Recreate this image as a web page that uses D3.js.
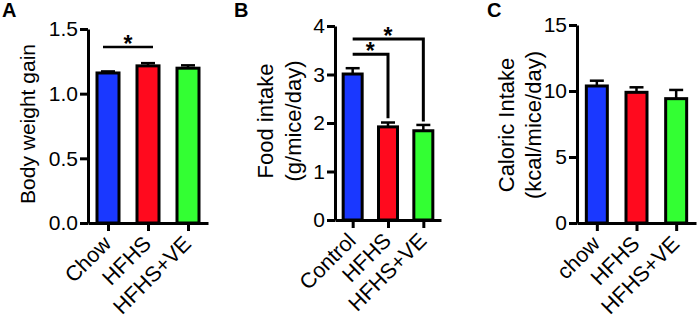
<!DOCTYPE html>
<html>
<head>
<meta charset="UTF-8">
<title>Body weight, food and caloric intake</title>
<script src="https://d3js.org/d3.v7.min.js"></script>
<style>
    body { margin: 0; background: #fff; }
    text { font-family: Arial, "Liberation Sans", sans-serif; fill: #000; }
    .axis path, .axis line { stroke: #000; stroke-width: 3; }
    .axis text { font-size: 21px; }
    .xlab text { font-size: 21.5px; }
    .ytitle { font-size: 21px; }
    .letter { font-size: 20px; font-weight: bold; }
    .star { font-size: 23px; font-weight: bold; }
</style>
</head>
<body>
<div id="chart"></div>
<script>
// ---- data ----
const groupsA = ["Chow", "HFHS", "HFHS+VE"];
const meansA = [1.16, 1.215, 1.197];
const semA = [0.012, 0.021, 0.022];
const ticksA = [0, 0.5, 1.0, 1.5];

const groupsB = ["Control", "HFHS", "HFHS+VE"];
const meansB = [3.01, 1.92, 1.84];
const semB = [0.12, 0.09, 0.12];
const ticksB = [0, 1, 2, 3, 4];

const groupsC = ["chow", "HFHS", "HFHS+VE"];
const meansC = [10.38, 9.9, 9.42];
const semC = [0.4, 0.38, 0.66];
const ticksC = [0, 5, 10, 15];

// significance marks: [from, to, level, drop-to (null = flat line)]
const sigA = [[0, 1, 1.36, null]];
const sigB = [[0, 1, 3.42, 2.1], [0, 2, 3.73, 2.03]];
const sigC = [];

const colors = ["#1a38ff", "#ff0a1e", "#33ff33"];

const W = 699, H = 319;
const svg = d3.select("#chart").append("svg")
    .attr("width", W)
    .attr("height", H);

const panels = [
    { letter: "A", lx: 2, groups: groupsA, means: meansA, sem: semA, ticks: ticksA, sig: sigA,
      fmt: d3.format(".1f"), title: ["Body weight gain"], tx: [35], ty: 124, tsize: 21,
      x0: 88, x1: 208, y0: 223, yTop: 29, barW: 25 },
    { letter: "B", lx: 234, groups: groupsB, means: meansB, sem: semB, ticks: ticksB, sig: sigB,
      fmt: d3.format("d"), title: ["Food intake", "(g/mice/day)"], tx: [273, 301], ty: 121, tsize: 22,
      x0: 335, x1: 441, y0: 220, yTop: 26, barW: 22 },
    { letter: "C", lx: 487, groups: groupsC, means: meansC, sem: semC, ticks: ticksC, sig: sigC,
      fmt: d3.format("d"), title: ["Caloric Intake", "(kcal/mice/day)"], tx: [514, 541], ty: 125, tsize: 22,
      x0: 577, x1: 696, y0: 223, yTop: 25, barW: 24 }
];

panels.forEach(p => {
    const g = svg.append("g");

    const x = d3.scalePoint()
        .domain(p.groups)
        .range([p.x0, p.x1])
        .padding(0.5);

    const y = d3.scaleLinear()
        .domain(d3.extent(p.ticks))
        .range([p.y0, p.yTop]);

    // error bars (upper only)
    p.groups.forEach((name, i) => {
        const cx = x(name);
        g.append("line")
            .attr("x1", cx).attr("x2", cx)
            .attr("y1", y(p.means[i])).attr("y2", y(p.means[i] + p.sem[i]))
            .attr("stroke", "#000").attr("stroke-width", 2.5);
        g.append("line")
            .attr("x1", cx - 7).attr("x2", cx + 7)
            .attr("y1", y(p.means[i] + p.sem[i])).attr("y2", y(p.means[i] + p.sem[i]))
            .attr("stroke", "#000").attr("stroke-width", 2.5);
    });

    // bars
    g.selectAll(".bar")
        .data(p.groups)
        .join("rect")
        .attr("class", "bar")
        .attr("x", d => x(d) - p.barW / 2 + 1.5)
        .attr("width", p.barW - 3)
        .attr("y", (d, i) => y(p.means[i]))
        .attr("height", (d, i) => p.y0 - y(p.means[i]))
        .attr("fill", (d, i) => colors[i])
        .attr("stroke", "#000")
        .attr("stroke-width", 3);

    // axes
    g.append("g")
        .attr("class", "axis")
        .attr("transform", `translate(${p.x0},0)`)
        .call(d3.axisLeft(y).tickValues(p.ticks).tickFormat(p.fmt).tickSize(8).tickSizeOuter(0).tickPadding(2));

    const xa = g.append("g")
        .attr("class", "axis xlab")
        .attr("transform", `translate(0,${p.y0})`)
        .call(d3.axisBottom(x).tickSize(8).tickSizeOuter(0));
    xa.selectAll("text")
        .attr("x", 0).attr("y", 0).attr("dy", 0)
        .attr("text-anchor", "end")
        .attr("transform", "translate(4,22) rotate(-45)");

    // y titles
    p.title.forEach((t, k) => {
        g.append("text")
            .attr("class", "ytitle")
            .style("font-size", p.tsize + "px")
            .attr("text-anchor", "middle")
            .attr("transform", `translate(${p.tx[k]},${p.ty}) rotate(-90)`)
            .text(t);
    });

    // panel letter
    g.append("text")
        .attr("class", "letter")
        .attr("x", p.lx).attr("y", 17)
        .text(p.letter);

    // significance
    p.sig.forEach(([a, b, lev, drop]) => {
        const xa0 = x(p.groups[a]), xb = x(p.groups[b]);
        if (drop === null) {
            g.append("line")
                .attr("x1", xa0 - 5).attr("x2", xb + 5)
                .attr("y1", y(lev)).attr("y2", y(lev))
                .attr("stroke", "#000").attr("stroke-width", 2.5);
        } else {
            g.append("path")
                .attr("d", `M${xa0},${y(lev)}H${xb}V${y(drop)}`)
                .attr("fill", "none")
                .attr("stroke", "#000").attr("stroke-width", 3);
        }
        g.append("text")
            .attr("class", "star")
            .attr("text-anchor", "middle")
            .attr("x", (xa0 + xb) / 2)
            .attr("y", y(lev) + 5)
            .text("*");
    });
});
</script>
</body>
</html>
